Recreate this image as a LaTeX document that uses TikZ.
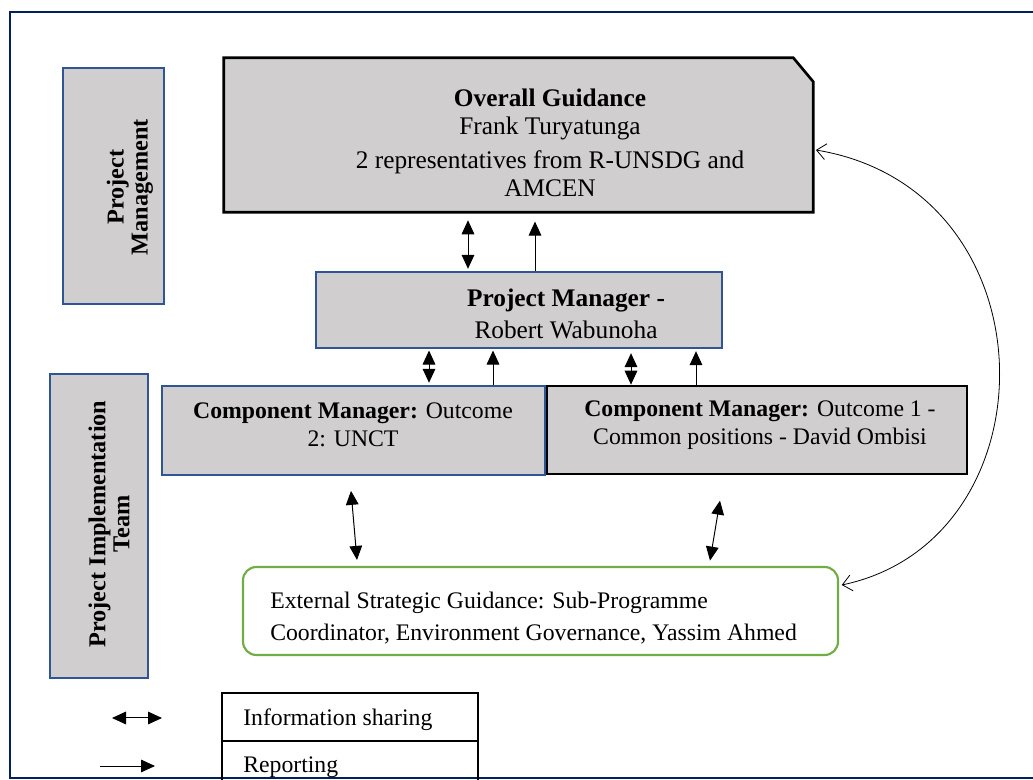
\documentclass[tikz,border=0pt]{standalone}
\usepackage{fontspec}
\setmainfont{Liberation Serif}
\usetikzlibrary{arrows.meta,fit}
\definecolor{boxgray}{RGB}{208,206,206}
\definecolor{boxblue}{RGB}{47,85,151}
\definecolor{framenavy}{RGB}{0,32,96}
\definecolor{boxgreen}{RGB}{112,173,71}
\begin{document}
\begin{tikzpicture}[x=0.75pt,y=-0.75pt,
  txt/.style={font=\fontsize{17.8}{21}\selectfont, inner sep=0pt, align=center},
  bigtxt/.style={font=\fontsize{19}{21}\selectfont, inner sep=0pt, align=center},
  lbl/.style={font=\fontsize{18.2}{18}\selectfont\bfseries, inner sep=0pt, align=center, rotate=90},
  bluebox/.style={draw=boxblue, fill=boxgray, line width=1.8pt, inner sep=0pt},
  blackbox/.style={draw=black, fill=boxgray, line width=2pt, inner sep=0pt},
  greenbox/.style={draw=boxgreen, fill=white, line width=1.6pt, rounded corners=10pt, inner sep=0pt},
  legbox/.style={draw=black, line width=0.8pt, inner sep=0pt},
  share/.style={{Triangle[length=10.5pt,width=9.5pt]}-{Triangle[length=10.5pt,width=9.5pt]}, line width=0.75pt},
  report/.style={-{Triangle[length=10.5pt,width=9.5pt]}, line width=0.75pt},
  feedback/.style={{Straight Barb[length=7pt,width=12pt]}-{Straight Barb[length=7pt,width=12pt]}, line width=0.6pt},
  ]
\useasboundingbox (0,0) rectangle (1033,780);
\fill[white] (0,0) rectangle (1033,780);
\draw[framenavy, line width=2pt] (1045,12) -- (10,12) -- (10,778) -- (1045,778);

% left labels
\node[bluebox, fit={(63,68) (164,304)}] (pmlab) {};
\node[lbl] (pmtext) at (130,187) {Project\\Management};
\node[bluebox, fit={(50,374) (148,678)}] (pitlab) {};
\node[lbl] (pittext) at (109,524) {Project Implementation\\Team};

% overall guidance
\node[fit={(224,58) (813,212)}, inner sep=0pt] (og) {};
\draw[blackbox] (og.south west) -- (og.north west) -- ([xshift=-15pt]og.north east)
  -- ([yshift=-18pt]og.north east) -- (og.south east) -- cycle;
\node[bigtxt] (ogtext) at (550,143) {\textbf{Overall Guidance}\\Frank Turyatunga\\[4pt]2 representatives from R-UNSDG and\\AMCEN};

% project manager
\node[bluebox, fit={(316,272) (722,348)}] (pm) {};
\node[bigtxt] (pmtxt) at (566,314) {\textbf{Project Manager -}\\[3.5pt]Robert Wabunoha};

% component managers
\node[bluebox, fit={(162,386) (545,475)}] (cm2) {};
\node[txt] (cm2txt) at (353,425) {\textbf{Component Manager:} Outcome\\2: UNCT};
\node[blackbox, fit={(547,386) (967,474)}] (cm1) {};
\node[txt] (cm1txt) at (760,425) {\textbf{Component Manager:} Outcome 1 -\\Common positions - David Ombisi};

% external guidance
\node[greenbox, fit={(243,567) (838,655)}] (ext) {};
\node[txt, align=left, anchor=west] (exttxt) at (270,618) {External Strategic Guidance: Sub-Programme\\[3.5pt]Coordinator, Environment Governance, Yassim Ahmed};

% connectors
\draw[share] ([yshift=-6pt]og.south -| 468,0) -- ([yshift=1.5pt]pm.north -| 468,0);
\draw[report] (pm.north -| 535,0) -- ([yshift=-7pt]og.south -| 535,0);
\draw[share] ([yshift=-1pt]pm.south -| 429,0) -- ([yshift=1.5pt]cm2.north -| 429,0);
\draw[report] (cm2.north -| 493,0) -- ([yshift=-1pt]pm.south -| 493,0);
\draw[share] ([yshift=-3pt]pm.south -| 631,0) -- (cm1.north -| 631,0);
\draw[report] (cm1.north -| 696,0) -- ([yshift=-1.5pt]pm.south -| 696,0);
\draw[share] ([yshift=-11pt]cm2.south -| 351,0) -- ([yshift=4.5pt]ext.north -| 357,0);
\draw[share] ([yshift=-19pt]cm1.south -| 720,0) -- ([yshift=4pt]ext.north -| 710,0);
\draw[feedback] ([xshift=2pt]ext.east |- 0,585) .. controls (1056,540) and (1056,190) .. ([xshift=2pt]og.east |- 0,150);

% legend
\coordinate (ls1) at (112,718);
\coordinate (le1) at (162,718);
\coordinate (ls2) at (100,766);
\coordinate (le2) at (155,766);
\draw[share] (ls1) -- (le1);
\draw[report] (ls2) -- (le2);
\node[legbox, fit={(222,693) (478,741)}] (leg1) {};
\node[legbox, fit={(222,741) (478,800)}] (leg2) {};
\node[txt, anchor=base west] (leg1txt) at (243,725) {Information sharing};
\node[txt, anchor=base west] (leg2txt) at (243,773) {Reporting};
\end{tikzpicture}
\end{document}
